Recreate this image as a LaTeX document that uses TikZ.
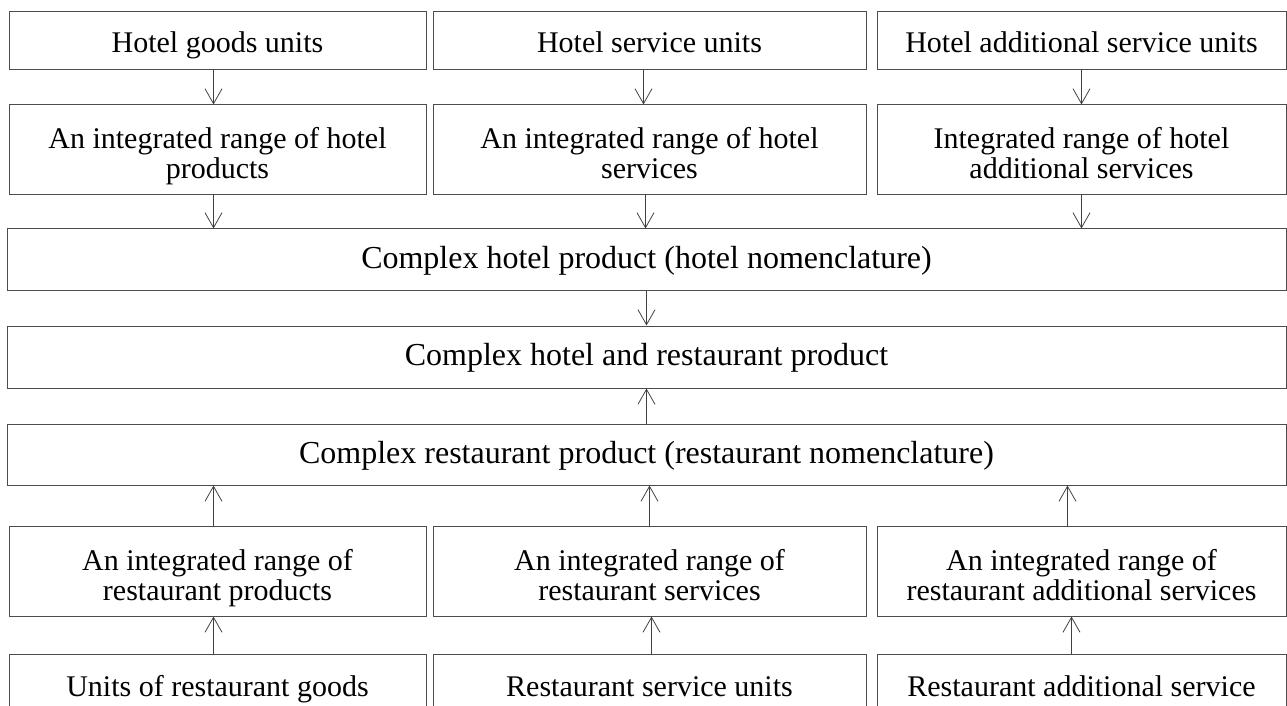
\documentclass[tikz,border=0pt]{standalone}
\usepackage{fontspec}
\setmainfont{Liberation Serif}
\usetikzlibrary{arrows.meta}
\tikzset{
    box/.style={
        draw=black!70,
        line width=0.5pt,
        rectangle,
        align=center,
        inner sep=0pt,
        text height=11.5pt,
        text depth=0pt,
        font=\fontsize{15}{15}\selectfont},
    twoline/.style={
        text height=29pt,
        text depth=0pt},
    wide/.style={
        minimum width=639.5pt,
        text height=8.5pt,
        font=\fontsize{16}{16}\selectfont},
    every edge/.style={
        draw,
        -{Straight Barb[length=7.5pt,width=8.5pt]},
        black!75,
        line width=0.4pt}}

\begin{document}
\begin{tikzpicture}[x=0.5pt,y=-0.5pt]
        \useasboundingbox (0,0) rectangle (1287,706);
        \clip (0,0) rectangle (1287,706);
        % hotel side
        \node[box, minimum width=208.5pt, minimum height=29pt] (hgoods) at (217.5,41) {Hotel goods units};
        \node[box, minimum width=216.5pt, minimum height=29pt] (hserv) at (649.5,41) {Hotel service units};
        \node[box, minimum width=204.5pt, minimum height=29pt] (hadd) at (1081.5,41) {Hotel additional service units};
        \node[box, twoline, minimum width=208.5pt, minimum height=45pt] (hgoodsr) at (217.5,150) {An integrated range of hotel\\products};
        \node[box, twoline, minimum width=216.5pt, minimum height=45pt] (hservr) at (649.5,150) {An integrated range of hotel\\services};
        \node[box, twoline, minimum width=204.5pt, minimum height=45pt] (haddr) at (1081.5,150) {Integrated range of hotel\\additional services};
        \node[box, wide, minimum height=31pt] (hotel) at (646.5,260) {Complex hotel product (hotel nomenclature)};
        % whole product
        \node[box, wide, minimum height=31pt] (hr) at (646.5,357) {Complex hotel and restaurant product};
        % restaurant side
        \node[box, wide, minimum height=30.5pt] (rest) at (646.5,454.5) {Complex restaurant product (restaurant nomenclature)};
        \node[box, twoline, minimum width=208.5pt, minimum height=45pt] (rgoodsr) at (217.5,571) {An integrated range of\\restaurant products};
        \node[box, twoline, minimum width=216.5pt, minimum height=45pt] (rservr) at (649.5,571) {An integrated range of\\restaurant services};
        \node[box, twoline, minimum width=204.5pt, minimum height=45pt] (raddr) at (1081.5,571) {An integrated range of\\restaurant additional services};
        \node[box, minimum width=208.5pt, minimum height=31pt] (rgoods) at (217.5,685) {Units of restaurant goods};
        \node[box, minimum width=216.5pt, minimum height=31pt] (rserv) at (649.5,685) {Restaurant service units};
        \node[box, minimum width=204.5pt, minimum height=31pt] (radd) at (1081.5,685) {Restaurant additional service};

        \draw ([xshift=-2pt]hgoods.south) edge ([xshift=-2pt]hgoodsr.north);
        \draw ([xshift=-3pt]hserv.south) edge ([xshift=-3pt]hservr.north);
        \draw (hadd) edge (haddr);
        \draw ([xshift=-2pt]hgoodsr.south) edge ([xshift=-2pt]hgoodsr.south |- hotel.north);
        \draw ([xshift=-2pt]hservr.south) edge ([xshift=-2pt]hservr.south |- hotel.north);
        \draw (haddr) edge (haddr |- hotel.north);
        \draw (hotel) edge (hr);
        \draw (rest) edge (hr);
        \draw ([xshift=-2pt]rgoodsr.north) edge ([xshift=-2pt]rgoodsr.north |- rest.south);
        \draw (rservr) edge (rservr |- rest.south);
        \draw ([xshift=-7pt]raddr.north) edge ([xshift=-7pt]raddr.north |- rest.south);
        \draw ([xshift=-2pt]rgoods.north) edge ([xshift=-2pt]rgoodsr.south);
        \draw ([xshift=1pt]rserv.north) edge ([xshift=1pt]rservr.south);
        \draw ([xshift=-5pt]radd.north) edge ([xshift=-5pt]raddr.south);
\end{tikzpicture}
\end{document}
